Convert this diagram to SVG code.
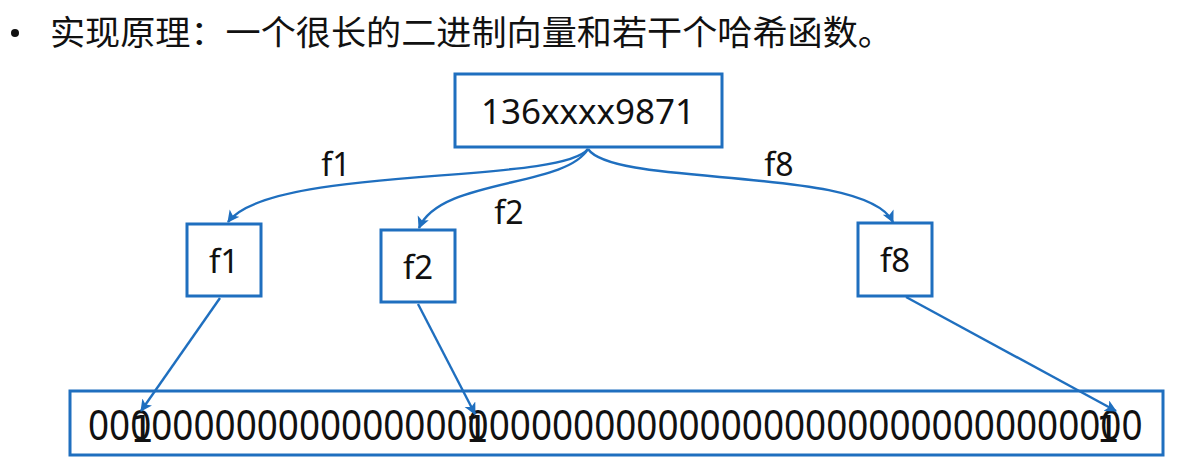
<svg xmlns="http://www.w3.org/2000/svg" width="1179" height="471" viewBox="0 0 1179 471">
<defs>
<marker id="arr" markerWidth="14" markerHeight="14" refX="11" refY="6" orient="auto" markerUnits="userSpaceOnUse">
<path d="M0,0 L12,6 L0,12 L3,6 Z" fill="#1F6FBF"/>
</marker>
<style>
.box{fill:#fff;stroke:#1F6FBF;stroke-width:3}
.lnk{fill:none;stroke:#1F6FBF;stroke-width:2.4}
.t{font-family:"Noto Sans","Noto Sans CJK SC",sans-serif;fill:#111}
.one{font-family:"DejaVu Sans",sans-serif;fill:#111}
</style>
</defs>
<rect width="1179" height="471" fill="#fff"/>
<g id="title">
<circle cx="15" cy="33" r="4" fill="#111"/>
<text class="t" x="50" y="45" font-size="34" textLength="843" lengthAdjust="spacingAndGlyphs">实现原理：一个很长的二进制向量和若干个哈希函数。</text>
</g>
<g id="root">
<rect class="box" x="455" y="74" width="267" height="73"/>
<text class="t" x="588" y="124" font-size="35" text-anchor="middle">136xxxx9871</text>
</g>
<g id="f1">
<rect class="box" x="187" y="224" width="74" height="72"/>
<text class="t" x="224" y="273" font-size="33" text-anchor="middle">f1</text>
</g>
<g id="f2">
<rect class="box" x="381" y="230" width="74" height="72"/>
<text class="t" x="418" y="279" font-size="33" text-anchor="middle">f2</text>
</g>
<g id="f8">
<rect class="box" x="858" y="223" width="74" height="73"/>
<text class="t" x="895" y="272" font-size="33" text-anchor="middle">f8</text>
</g>
<g id="vector">
<rect class="box" x="70" y="391" width="1093" height="64"/>
<text class="t" transform="translate(88,440) scale(0.878,1)" x="0" y="0" font-size="42">00000000000000000000000000000000000000000000000000</text>
<text class="one" x="142" y="442" font-size="38" text-anchor="middle">1</text>
<text class="one" x="477" y="442" font-size="38" text-anchor="middle">1</text>
<text class="one" x="1108" y="442" font-size="38" text-anchor="middle">1</text>
</g>
<g id="connectors">
<path class="lnk" d="M588,149 C560,185 270,165 228,222" marker-end="url(#arr)"/>
<path class="lnk" d="M588,149 C565,188 440,178 419,228" marker-end="url(#arr)"/>
<path class="lnk" d="M588,149 C615,188 865,165 893,222" marker-end="url(#arr)"/>
<path class="lnk" d="M220,298 L141,411" marker-end="url(#arr)"/>
<path class="lnk" d="M418,304 L475,414" marker-end="url(#arr)"/>
<path class="lnk" d="M906,297 L1116,411" marker-end="url(#arr)"/>
<text class="t" x="336" y="176" font-size="32" text-anchor="middle">f1</text>
<text class="t" x="509" y="224" font-size="32" text-anchor="middle">f2</text>
<text class="t" x="779" y="176" font-size="32" text-anchor="middle">f8</text>
</g>
</svg>
